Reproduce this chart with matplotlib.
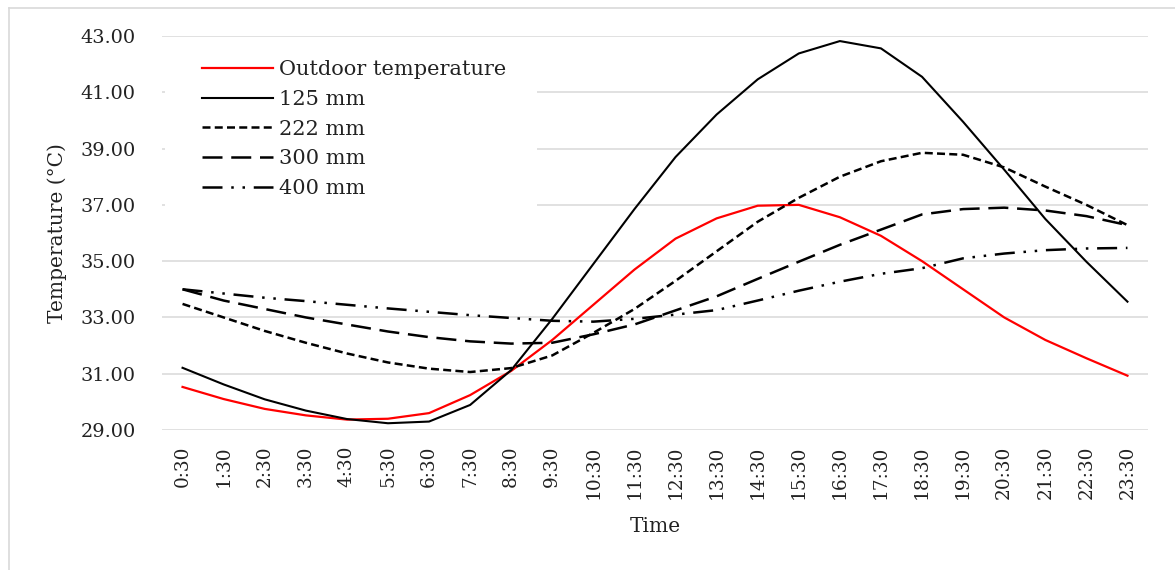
import numpy as np
import matplotlib
matplotlib.use("Agg")
import matplotlib.pyplot as plt
from matplotlib.patches import Rectangle
from matplotlib.lines import Line2D

# ---- data ----
times = ["0:30", "1:30", "2:30", "3:30", "4:30", "5:30", "6:30", "7:30", "8:30", "9:30",
         "10:30", "11:30", "12:30", "13:30", "14:30", "15:30", "16:30", "17:30", "18:30",
         "19:30", "20:30", "21:30", "22:30", "23:30"]

outdoor = [30.53, 30.10, 29.75, 29.52, 29.37, 29.40, 29.60, 30.24, 31.10, 32.20,
           33.45, 34.70, 35.80, 36.52, 36.97, 37.00, 36.56, 35.90, 35.00, 34.00,
           33.00, 32.20, 31.55, 30.93]
mm125 = [31.21, 30.62, 30.09, 29.69, 29.39, 29.24, 29.30, 29.89, 31.13, 32.95,
         34.90, 36.85, 38.70, 40.21, 41.46, 42.38, 42.82, 42.56, 41.55, 39.95,
         38.25, 36.50, 34.98, 33.56]
mm222 = [33.48, 33.00, 32.52, 32.10, 31.72, 31.40, 31.18, 31.06, 31.20, 31.65,
         32.45, 33.30, 34.30, 35.35, 36.40, 37.25, 38.00, 38.55, 38.85, 38.78,
         38.33, 37.65, 37.00, 36.28]
mm300 = [34.00, 33.60, 33.30, 33.00, 32.75, 32.50, 32.30, 32.15, 32.07, 32.10,
         32.40, 32.75, 33.25, 33.75, 34.37, 34.98, 35.58, 36.12, 36.66, 36.85,
         36.90, 36.80, 36.60, 36.28]
mm400 = [34.00, 33.85, 33.70, 33.58, 33.45, 33.32, 33.20, 33.08, 32.98, 32.88,
         32.85, 32.95, 33.10, 33.26, 33.60, 33.95, 34.27, 34.55, 34.75, 35.10,
         35.27, 35.39, 35.45, 35.47]
series_labels = ["Outdoor temperature", "125 mm", "222 mm", "300 mm", "400 mm"]
yticks = [29, 31, 33, 35, 37, 39, 41, 43]

W, H = 1175, 570
plt.rcParams['font.family'] = ['DejaVu Serif']

fig = plt.figure(figsize=(W / 100, H / 100), dpi=100)
fig.patch.set_facecolor('white')

# outer light border (left & top)
fig.add_artist(Line2D([9 / W, 9 / W], [0, 1 - 8 / H], transform=fig.transFigure,
                      color='#d9d9d9', lw=1.2))
fig.add_artist(Line2D([9 / W, 1], [1 - 8 / H, 1 - 8 / H], transform=fig.transFigure,
                      color='#d9d9d9', lw=1.2))

ax = fig.add_axes([162 / W, 1 - 430 / H, (1148 - 162) / W, (430 - 36) / H])
x = np.arange(len(times))

ax.plot(x, outdoor, color='#ff0000', lw=1.6, zorder=3)
ax.plot(x, mm125, color='black', lw=1.5, zorder=3)
ax.plot(x, mm222, color='black', lw=1.8, dashes=(3.2, 1.7), zorder=3)
ax.plot(x, mm300, color='black', lw=1.8, dashes=(8, 3.5), zorder=3)
ax.plot(x, mm400, color='black', lw=1.8, dashes=(8, 3.5, 1, 3.5, 1, 3.5), zorder=3)

ax.set_xlim(-0.5, len(times) - 0.5)
ax.set_ylim(29, 43)
ax.set_yticks(yticks)
ax.set_yticklabels([f"{v:.2f}" for v in yticks])
ax.set_xticks(x)
ax.set_xticklabels(times, rotation=90)
ax.tick_params(axis='y', length=0, pad=19, labelsize=13.9, colors='#222222')
ax.tick_params(axis='x', length=0, pad=11, labelsize=13.3, colors='#222222')
for s in ax.spines.values():
    s.set_visible(False)
ax.set_axisbelow(True)
ax.yaxis.grid(True, color='#d9d9d9', lw=1.1)

# white area behind legend
ax.add_patch(Rectangle((165 / W, 1 - 215 / H), (537 - 165) / W, (215 - 45) / H,
                       transform=fig.transFigure, facecolor='white', edgecolor='none', zorder=1))

handles = ax.get_lines()
leg = fig.legend(handles, series_labels, loc='upper left',
                 bbox_to_anchor=(202 / W, 1 - 60 / H), bbox_transform=fig.transFigure,
                 frameon=False, fontsize=15, handlelength=3.4, handletextpad=0.28,
                 labelspacing=0.52, borderpad=0, borderaxespad=0)
for t in leg.get_texts():
    t.set_color('#222222')

fig.text(655 / W, 1 - 527 / H, "Time", ha='center', va='center', fontsize=14.5, color='#222222')
fig.text(57 / W, 1 - 233 / H, "Temperature (°C)", ha='center', va='center',
         rotation=90, fontsize=14.5, color='#222222')

fig.savefig("out.png", dpi=100)
